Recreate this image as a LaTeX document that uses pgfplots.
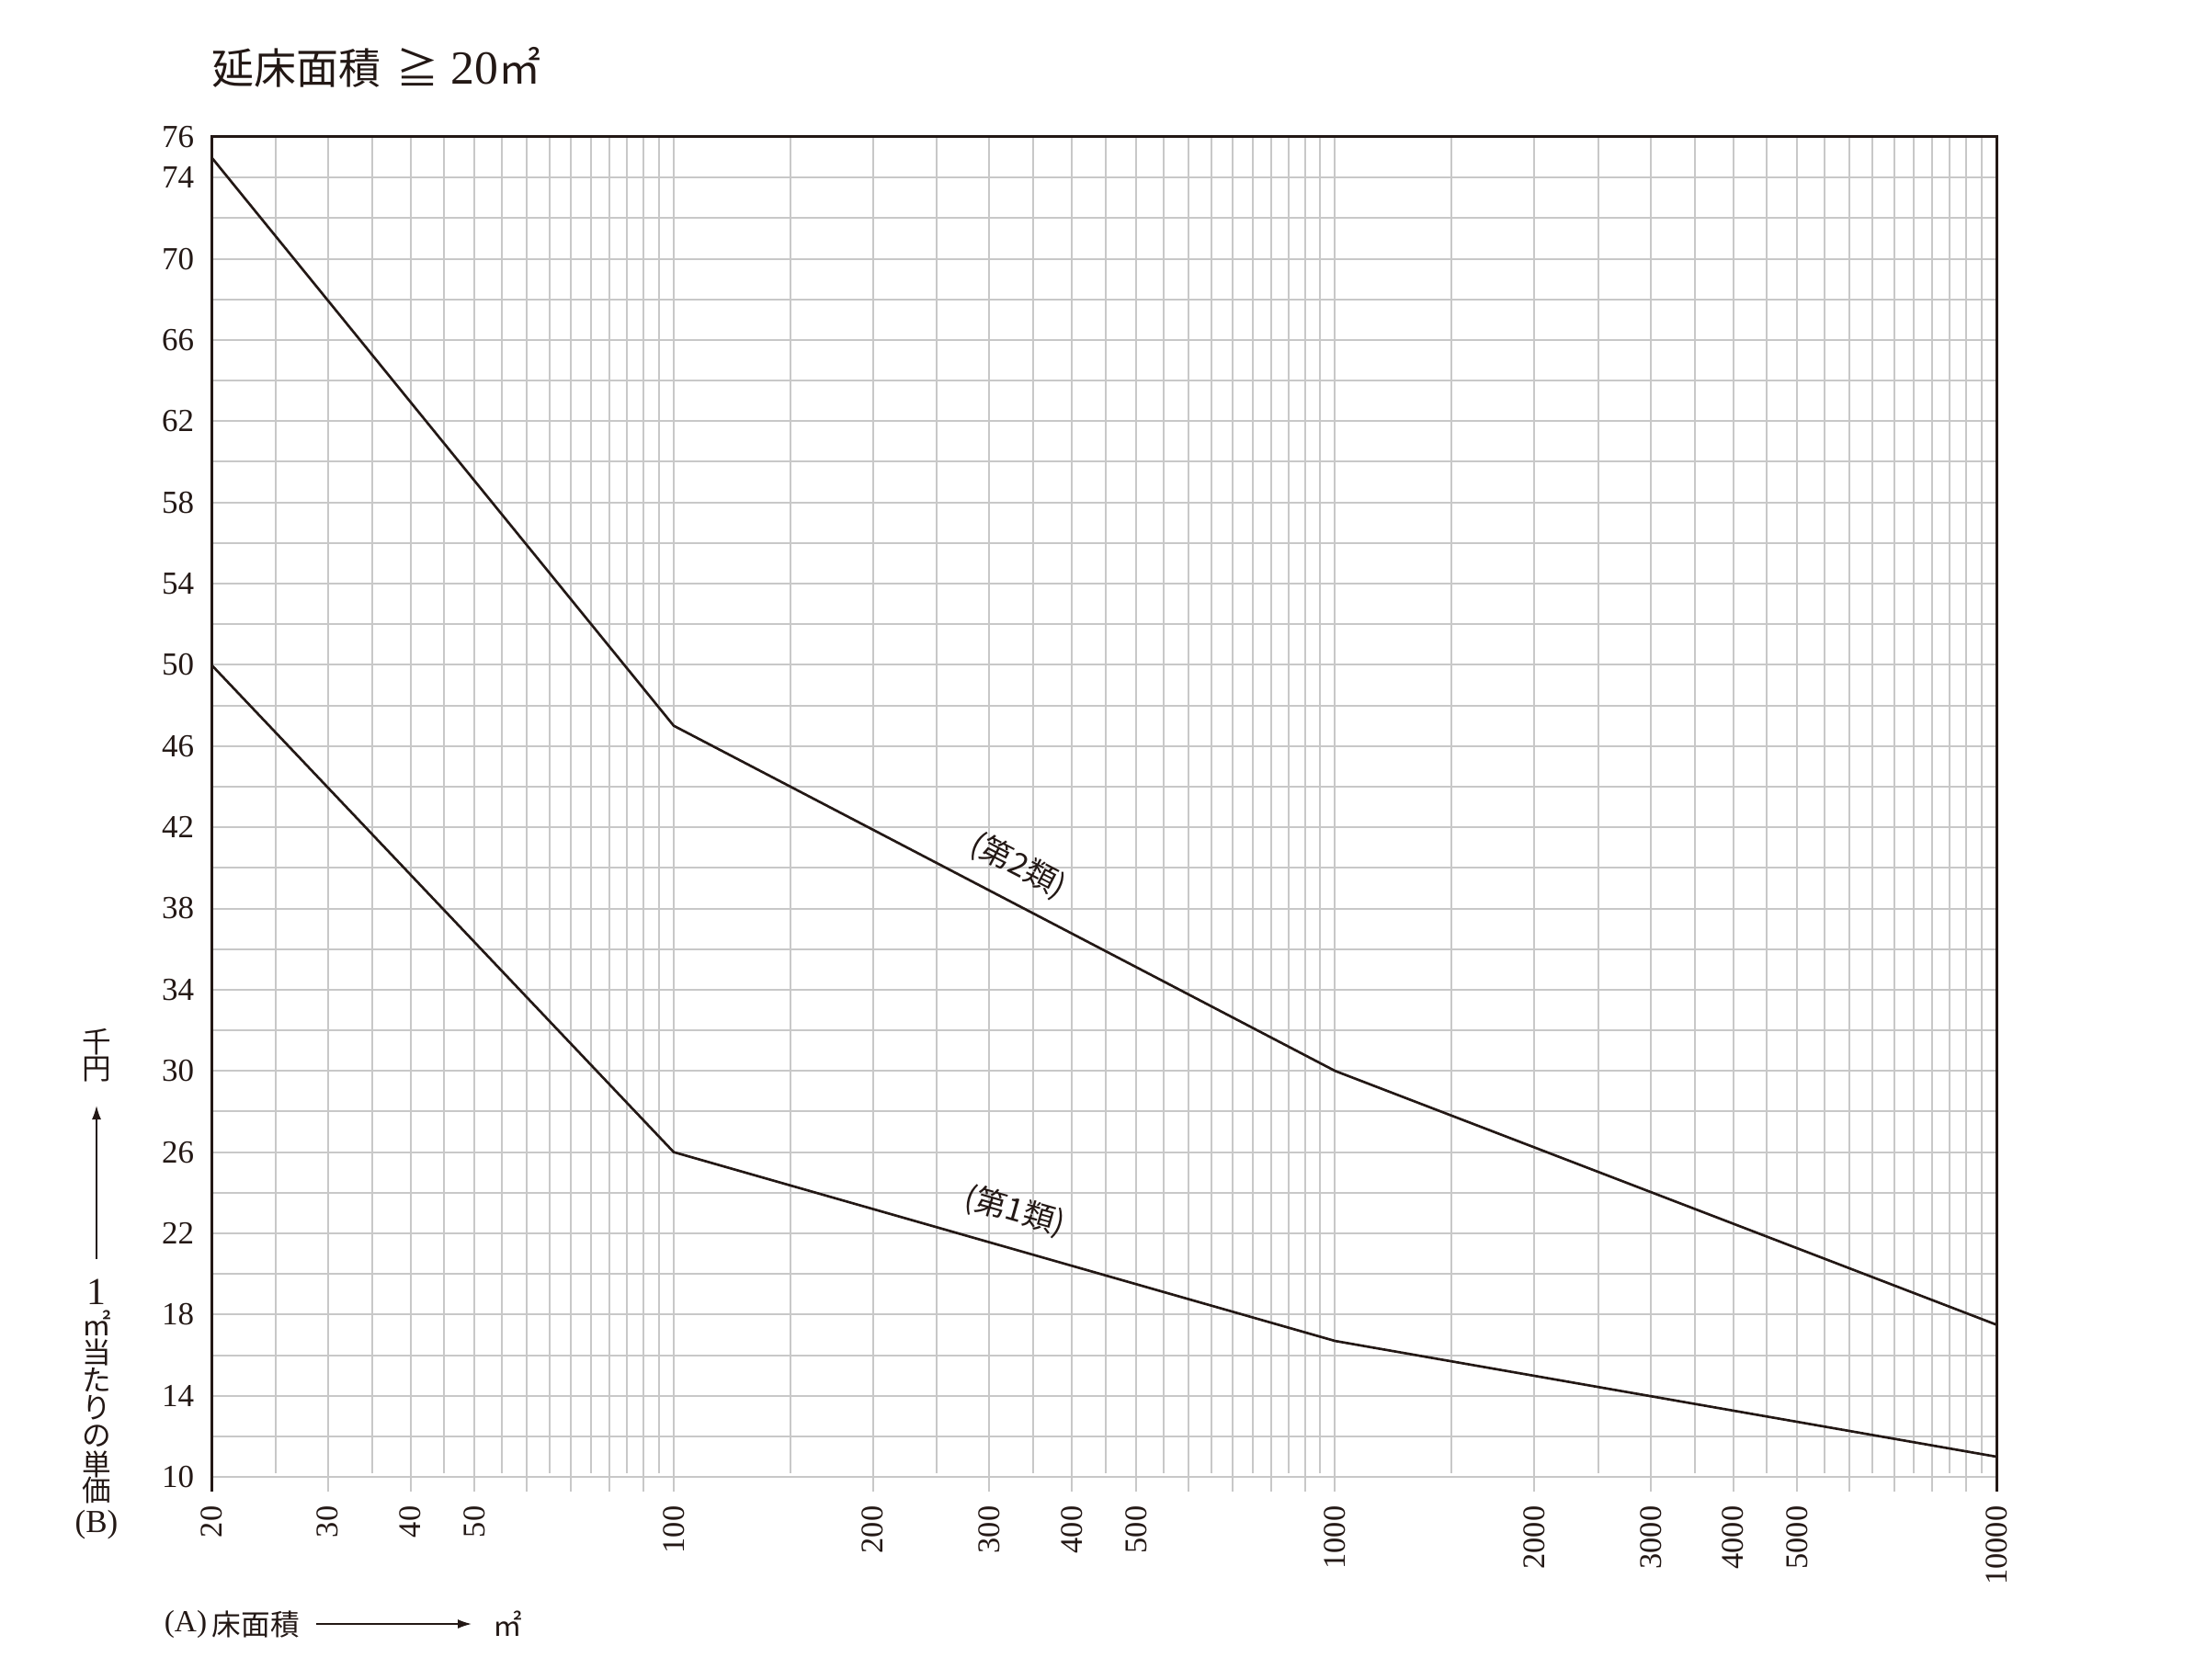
\documentclass[border=0pt]{standalone}
\usepackage{fontspec}
\setmainfont{Liberation Serif}
\newfontfamily\jp{Noto Sans CJK JP}
\usepackage{pgfplots}
\pgfplotsset{compat=1.18}
\usetikzlibrary{arrows.meta}
\definecolor{ink}{RGB}{35,24,21}
\definecolor{gridc}{RGB}{200,200,200}
\newcommand{\fs}[1]{\fontsize{#1}{#1}\selectfont}

\begin{document}
\begin{tikzpicture}
\path[use as bounding box] (0,0) rectangle (720pt,-548.4pt);
\begin{axis}[
  at={(69pt,-486.9pt)}, anchor=south west,
  scale only axis, width=582.6pt, height=442.2pt,
  xmode=log, xmin=20, xmax=10000, ymin=9.28, ymax=76,
  clip=false,
  axis line style={draw=none},
  tick style={draw=none},
  xtick={20,30,40,50,100,200,300,400,500,1000,2000,3000,4000,5000,10000},
  xticklabels={20,30,40,50,100,200,300,400,500,1000,2000,3000,4000,5000,10000},
  extra x ticks={60,70,80,90,600,700,800,900,6000,7000,8000,9000},
  extra x tick labels={},
  extra x tick style={grid=major},
  ytick={10,14,18,22,26,30,34,38,42,46,50,54,58,62,66,70,74,76},
  yticklabels={10,14,18,22,26,30,34,38,42,46,50,54,58,62,66,70,74,76},
  minor ytick={12,16,20,24,28,32,36,40,44,48,52,56,60,64,68,72},
  xmajorgrids, ymajorgrids, yminorgrids,
  major grid style={gridc, line width=0.6pt},
  minor grid style={gridc, line width=0.6pt},
  tick label style={text=ink},
  xticklabel style={rotate=90, anchor=east, font=\fs{10.3}, inner sep=0pt},
  yticklabel style={anchor=east, font=\fs{10.5}, inner sep=0pt},
  xticklabel shift=4.5pt, yticklabel shift=5.5pt,
]
% short grid lines (stop above the 10 line)
\pgfplotsinvokeforeach{25,35,45,55,65,75,85,95,150,250,350,450,550,650,750,850,950,1500,2500,3500,4500,5500,6500,7500,8500,9500}{
  \draw[gridc, line width=0.6pt] (axis cs:#1,10.2) -- (axis cs:#1,76);
}

% (第2類)
\addplot[ink, line width=0.8pt] coordinates {(20,75) (100,47) (1000,30) (10000,17.5)};
% (第1類)
\addplot[ink, line width=0.8pt] coordinates {(20,50) (100,26) (1000,16.7) (10000,11)};

\draw[ink, line width=0.9pt] (rel axis cs:0,0) -- (rel axis cs:0,1) -- (rel axis cs:1,1) -- (rel axis cs:1,0);

\node[rotate=-27.5, font=\fs{10.3}\jp, text=ink] at (axis cs:332,40.1) {(第2類)};
\node[rotate=-16, font=\fs{10.3}\jp, text=ink] at (axis cs:328,23.1) {(第1類)};
\end{axis}

\begin{scope}[x=0.3pt, y=-0.3pt, text=ink]
% title
\node[anchor=west, inner sep=0pt, font=\fs{13.8}] at (230,73) {{\jp 延床面積}\hspace{5pt}{\jp ≧}\hspace{4pt}{\fs{15.5}20}{\jp ㎡}};

% vertical y label
\begin{scope}[every node/.style={font=\fs{9.5}\jp, inner sep=0pt}]
\node at (105,1134) {千};
\node at (105,1164) {円};
\node at (105,1406) {\rmfamily\fs{12.5}1};
\node at (105,1440) {㎡};
\node at (105,1471) {当};
\node at (105,1501) {た};
\node at (105,1532) {り};
\node at (105,1563) {の};
\node at (105,1593) {単};
\node at (105,1621) {価};
\node at (105,1659) {\rmfamily\fs{10.5}(B)};
\end{scope}
\draw[ink, line width=0.45pt, -{Latex[length=4.5pt,width=3pt]}] (105,1370) -- (105,1203);

% x label
\node[font=\fs{10}, inner sep=0pt] at (202,1767) {(A)};
\node[anchor=west, font=\fs{9.5}\jp, inner sep=0pt] at (230,1767) {床面積};
\draw[ink, line width=0.45pt, -{Latex[length=4.5pt,width=3pt]}] (344,1767) -- (513,1767);
\node[font=\fs{9.5}\jp, inner sep=0pt] at (552,1767) {㎡};
\end{scope}
\end{tikzpicture}
\end{document}
